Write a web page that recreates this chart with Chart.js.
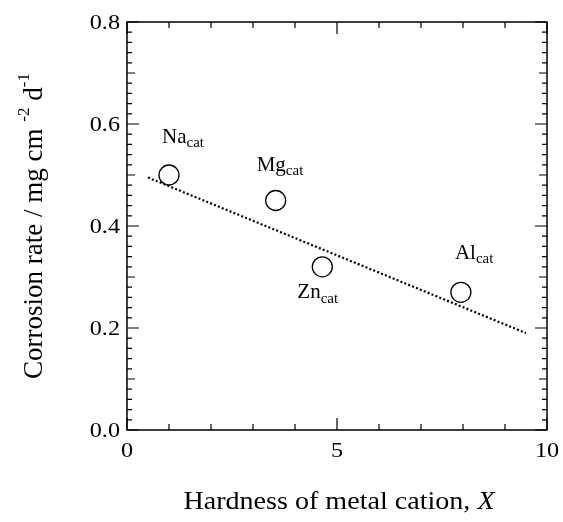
<!DOCTYPE html>
<html>
<head>
<meta charset="utf-8">
<script src="https://cdn.jsdelivr.net/npm/chart.js@4"></script>
<style>
  html, body { margin: 0; padding: 0; background: #fff; }
  #wrap { width: 563px; height: 522px; }
</style>
</head>
<body>
<div id="wrap"><canvas id="corrosion-chart"></canvas></div>
<script>
const cations = ["Na", "Mg", "Zn", "Al"];
const hardness = [1.0, 3.54, 4.65, 7.95];
const corrosionRate = [0.50, 0.45, 0.32, 0.27];
const fitX = [0.5, 9.5];
const fitY = [0.495, 0.19];
const xTickLabels = ["0", "5", "10"];
const yTickLabels = ["0.0", "0.2", "0.4", "0.6", "0.8"];

const FONT = "'Liberation Serif', 'Times New Roman', serif";

// label offsets relative to each point (pixels): left edge, text middle
const labelOffsets = [[-7, -38], [-19, -35], [-25, 26], [-6, -39]];

// text widened a little, like the source picture
function stretchText(c, txt, x, y, sx) {
  c.save();
  c.translate(x, y);
  c.scale(sx, 1);
  c.fillText(txt, 0, 0);
  const w = c.measureText(txt).width * sx;
  c.restore();
  return w;
}

const axesPlugin = {
  id: "axesPlugin",
  afterDraw(chart) {
    const c = chart.ctx;
    const xs = chart.scales.x, ys = chart.scales.y;
    const a = chart.chartArea;
    c.save();
    c.strokeStyle = "#000";
    c.fillStyle = "#000";
    c.lineWidth = 1.5;
    c.strokeRect(a.left, a.top, a.right - a.left, a.bottom - a.top);

    c.lineWidth = 1.2;
    c.beginPath();
    for (let v = 0; v <= 10; v++) {
      const px = xs.getPixelForValue(v);
      const len = v % 5 === 0 ? 12 : 6;
      c.moveTo(px, a.bottom); c.lineTo(px, a.bottom - len);
      c.moveTo(px, a.top); c.lineTo(px, a.top + len);
    }
    for (let i = 0; i <= 40; i++) {
      const py = ys.getPixelForValue(i * 0.02);
      const len = i % 10 === 0 ? 12 : (i % 5 === 0 ? 8 : 5);
      c.moveTo(a.left, py); c.lineTo(a.left + len, py);
      c.moveTo(a.right, py); c.lineTo(a.right - len, py);
    }
    c.stroke();

    c.font = "22px " + FONT;
    c.textBaseline = "alphabetic";
    c.textAlign = "center";
    xTickLabels.forEach(t => {
      stretchText(c, t, xs.getPixelForValue(parseFloat(t)), a.bottom + 27, 1.1);
    });
    c.textAlign = "right";
    yTickLabels.forEach(t => {
      stretchText(c, t, a.left - 7, ys.getPixelForValue(parseFloat(t)) + 7, 1.1);
    });

    // x title
    c.textAlign = "left";
    const t1 = "Hardness of metal cation, ";
    const sx = 1.08;
    c.font = "italic 26px " + FONT;
    const wX = c.measureText("X").width * sx;
    c.font = "26px " + FONT;
    const w1 = c.measureText(t1).width * sx;
    const x0 = 339 - (w1 + wX) / 2;
    stretchText(c, t1, x0, 509, sx);
    c.font = "italic 26px " + FONT;
    stretchText(c, "X", x0 + w1, 509, sx);

    // y title with superscripts
    const parts = [["Corrosion rate / mg cm ", 0], ["-2", 1], [" d", 0], ["-1", 1]];
    let total = 0;
    parts.forEach(p => {
      c.font = (p[1] ? "17px " : "27px ") + FONT;
      total += c.measureText(p[0]).width;
    });
    c.translate(42, 226);
    c.rotate(-Math.PI / 2);
    let pos = -total / 2;
    parts.forEach(p => {
      c.font = (p[1] ? "17px " : "27px ") + FONT;
      c.fillText(p[0], pos, p[1] ? -13 : 0);
      pos += c.measureText(p[0]).width;
    });
    c.restore();

    // point labels with subscripts
    c.save();
    c.fillStyle = "#000";
    c.textBaseline = "middle";
    c.textAlign = "left";
    cations.forEach((name, i) => {
      const px = xs.getPixelForValue(hardness[i]) + labelOffsets[i][0];
      const py = ys.getPixelForValue(corrosionRate[i]) + labelOffsets[i][1];
      c.font = "21px " + FONT;
      const w = stretchText(c, name, px, py, 1.0);
      c.font = "15px " + FONT;
      stretchText(c, "cat", px + w, py + 6, 1.0);
    });
    c.restore();
  }
};

new Chart(document.getElementById("corrosion-chart"), {
  type: "scatter",
  data: {
    datasets: [
      {
        label: "fit",
        type: "line",
        data: fitX.map((x, i) => ({ x: x, y: fitY[i] })),
        borderColor: "#000",
        borderWidth: 2.2,
        borderDash: [2, 2.2],
        pointRadius: 0,
        fill: false,
      },
      {
        label: "rate",
        data: hardness.map((x, i) => ({ x: x, y: corrosionRate[i] })),
        pointRadius: 10,
        pointBorderWidth: 1.3,
        pointBorderColor: "#000",
        pointBackgroundColor: "rgba(255,255,255,0)",
      },
    ],
  },
  options: {
    responsive: true,
    maintainAspectRatio: false,
    animation: false,
    layout: { padding: { left: 127, top: 22, right: 16, bottom: 92 } },
    plugins: { legend: { display: false }, tooltip: { enabled: false } },
    scales: {
      x: { type: "linear", min: 0, max: 10, display: false },
      y: { type: "linear", min: 0, max: 0.8, display: false },
    },
  },
  plugins: [axesPlugin],
});
</script>
</body>
</html>
